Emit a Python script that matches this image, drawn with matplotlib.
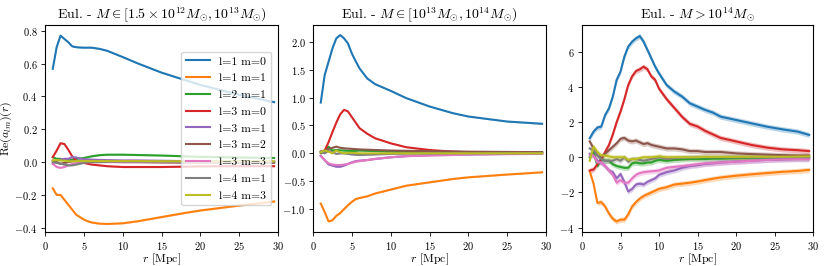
import numpy as np
import matplotlib
matplotlib.use("Agg")
import matplotlib.pyplot as plt

plt.rcParams["font.family"] = "serif"
plt.rcParams["font.serif"] = ["cmr10", "DejaVu Serif"]
plt.rcParams["mathtext.fontset"] = "cm"
plt.rcParams["axes.formatter.use_mathtext"] = True
plt.rcParams["axes.unicode_minus"] = True

LABELS = ["l=1 m=0", "l=1 m=1", "l=2 m=1", "l=3 m=0", "l=3 m=1",
          "l=3 m=2", "l=3 m=3", "l=4 m=1", "l=4 m=3"]
TITLES = [r"Eul. - $M \in [1.5\times10^{12}M_{\odot}, 10^{13}M_{\odot})$",
          r"Eul. - $M \in [10^{13}M_{\odot}, 10^{14}M_{\odot})$",
          r"Eul. - $M > 10^{14}M_{\odot}$"]

# radius grid, low and mid mass bins
r_lo = [1, 1.5, 2, 2.5, 3, 3.5, 4, 4.5, 5, 5.5, 6, 7, 8, 10, 12, 15, 18, 20, 25, 29.5]

# low mass bin
lo_10 = [0.568, 0.70, 0.77, 0.75, 0.73, 0.705, 0.70, 0.698, 0.697, 0.697, 0.697, 0.69, 0.678, 0.64, 0.60, 0.545, 0.50, 0.47, 0.41, 0.365]
lo_11 = [-0.16, -0.20, -0.20, -0.23, -0.26, -0.29, -0.32, -0.335, -0.35, -0.36, -0.368, -0.375, -0.377, -0.373, -0.36, -0.335, -0.31, -0.295, -0.265, -0.24]
lo_21 = [0.03, 0.02, 0.02, 0.012, 0.01, 0.015, 0.02, 0.022, 0.025, 0.03, 0.035, 0.042, 0.045, 0.045, 0.043, 0.04, 0.035, 0.032, 0.028, 0.025]
lo_30 = [0.03, 0.07, 0.115, 0.11, 0.075, 0.035, 0.01, 0.0, -0.005, -0.01, -0.015, -0.02, -0.025, -0.03, -0.03, -0.03, -0.028, -0.026, -0.025, -0.025]
lo_31 = [-0.01, 0.01, 0.015, 0.02, 0.02, 0.03, 0.028, 0.022, 0.018, 0.016, 0.015, 0.013, 0.012, 0.01, 0.01, 0.008, 0.006, 0.005, 0.003, 0.002]
lo_32 = [0.01, 0.0, -0.01, -0.005, 0.0, 0.005, 0.005, 0.004, 0.003, 0.003, 0.003, 0.002, 0.002, 0.0, 0.0, -0.002, -0.003, -0.003, -0.004, -0.005]
lo_33 = [-0.01, -0.03, -0.035, -0.03, -0.02, -0.012, -0.008, -0.005, -0.002, 0.0, 0.0, 0.0, 0.0, 0.0, 0.0, 0.0, 0.0, 0.0, 0.0, 0.0]
lo_41 = [0.0, -0.005, -0.01, -0.015, -0.02, -0.02, -0.015, -0.01, -0.005, -0.002, 0.0, 0.0, 0.002, 0.003, 0.003, 0.003, 0.002, 0.002, 0.001, 0.001]
lo_43 = [0.01, 0.012, 0.01, 0.008, 0.005, 0.005, 0.006, 0.006, 0.006, 0.006, 0.006, 0.006, 0.006, 0.006, 0.006, 0.005, 0.005, 0.005, 0.005, 0.005]

# mid mass bin
mid_10 = [0.91, 1.40, 1.64, 1.88, 2.06, 2.12, 2.06, 1.97, 1.79, 1.65, 1.52, 1.34, 1.24, 1.12, 0.99, 0.84, 0.72, 0.66, 0.57, 0.53]
mid_11 = [-0.9, -1.05, -1.22, -1.2, -1.12, -1.07, -1.0, -0.93, -0.87, -0.82, -0.8, -0.77, -0.72, -0.65, -0.58, -0.52, -0.46, -0.43, -0.38, -0.34]
mid_21 = [0.0, 0.05, 0.12, 0.05, 0.06, 0.055, 0.05, 0.045, 0.04, 0.045, 0.05, 0.045, 0.04, 0.03, 0.025, 0.02, 0.02, 0.02, 0.02, 0.02]
mid_30 = [0.02, 0.05, 0.2, 0.38, 0.55, 0.70, 0.78, 0.75, 0.65, 0.55, 0.45, 0.35, 0.27, 0.18, 0.11, 0.06, 0.03, 0.02, 0.01, 0.01]
mid_31 = [-0.05, -0.12, -0.2, -0.22, -0.24, -0.24, -0.22, -0.19, -0.16, -0.14, -0.13, -0.12, -0.1, -0.07, -0.05, -0.03, -0.02, -0.02, -0.01, -0.01]
mid_32 = [0.03, 0.05, 0.08, 0.1, 0.12, 0.1, 0.09, 0.085, 0.08, 0.075, 0.07, 0.065, 0.06, 0.05, 0.045, 0.04, 0.035, 0.03, 0.025, 0.02]
mid_33 = [-0.04, -0.12, -0.18, -0.2, -0.21, -0.21, -0.2, -0.19, -0.17, -0.15, -0.14, -0.12, -0.1, -0.07, -0.05, -0.04, -0.03, -0.02, -0.015, -0.01]
mid_41 = [0.03, 0.0, 0.05, 0.02, -0.01, 0.0, 0.0, -0.01, -0.02, -0.025, -0.03, -0.025, -0.02, -0.01, -0.005, 0.0, 0.0, 0.0, 0.0, 0.0]
mid_43 = [0.02, 0.05, 0.03, 0.0, 0.05, 0.02, 0.0, 0.01, 0.01, 0.005, 0.0, 0.0, 0.0, 0.0, 0.0, 0.0, 0.0, 0.0, 0.0, 0.0]

# high mass bin
r_hi = [1, 1.5, 2, 2.5, 3, 3.5, 4, 4.5, 5, 5.5, 6, 6.5, 7, 7.5, 8, 8.5, 9, 9.5, 10, 11, 12, 13, 14, 15, 16, 17, 18, 20, 22, 24, 26, 28, 29.5]
hi_10 = [1.08, 1.46, 1.69, 1.74, 2.4, 2.78, 3.45, 4.4, 4.87, 5.72, 6.29, 6.57, 6.76, 6.89, 6.57, 6.1, 5.63, 5.15, 4.77, 4.1, 3.73, 3.45, 3.07, 2.88, 2.69, 2.54, 2.31, 2.12, 1.93, 1.74, 1.59, 1.46, 1.27]
hi_11 = [-0.8, -1.5, -2.6, -2.55, -2.8, -3.2, -3.5, -3.65, -3.55, -3.55, -3.25, -2.8, -2.55, -2.35, -2.2, -2.1, -2.0, -1.9, -1.8, -1.7, -1.55, -1.5, -1.45, -1.38, -1.3, -1.22, -1.15, -1.05, -0.97, -0.9, -0.83, -0.78, -0.72]
hi_21 = [0.0, 0.3, -0.5, -0.1, -0.2, -0.2, -0.4, -0.5, -0.55, -0.6, -0.6, -0.35, -0.3, -0.35, -0.35, -0.3, -0.3, -0.2, -0.15, -0.2, -0.15, -0.12, -0.1, -0.1, -0.1, -0.08, -0.08, -0.05, -0.03, -0.02, 0.0, 0.0, 0.0]
hi_30 = [-0.75, -0.7, -0.4, -0.1, 0.3, 0.7, 1.3, 2.0, 2.6, 3.3, 4.1, 4.6, 4.9, 5.0, 5.15, 5.0, 4.6, 4.4, 3.9, 3.3, 2.8, 2.3, 1.9, 1.75, 1.5, 1.3, 1.1, 0.9, 0.7, 0.55, 0.45, 0.4, 0.35]
hi_31 = [0.2, 0.1, -0.2, -0.3, -0.5, -0.75, -0.85, -1.2, -0.95, -1.4, -1.95, -1.8, -1.55, -1.5, -1.55, -1.4, -1.3, -1.2, -1.0, -0.85, -0.75, -0.6, -0.5, -0.45, -0.38, -0.35, -0.3, -0.25, -0.2, -0.15, -0.12, -0.1, -0.1]
hi_32 = [0.9, 0.5, 0.1, 0.0, 0.2, 0.4, 0.6, 0.8, 1.05, 1.1, 0.95, 0.9, 0.95, 0.85, 0.75, 0.8, 0.7, 0.65, 0.6, 0.5, 0.5, 0.45, 0.35, 0.35, 0.3, 0.3, 0.3, 0.22, 0.18, 0.15, 0.12, 0.1, 0.1]
hi_33 = [0.1, 0.1, -0.3, -0.3, -0.5, -0.75, -1.0, -1.45, -1.3, -1.45, -1.45, -1.2, -1.0, -0.9, -0.85, -0.82, -0.8, -0.78, -0.75, -0.6, -0.55, -0.5, -0.45, -0.4, -0.35, -0.32, -0.3, -0.25, -0.2, -0.15, -0.12, -0.1, -0.1]
hi_41 = [0.5, 0.4, 0.1, -0.1, -0.2, -0.2, -0.2, -0.1, -0.2, 0.0, -0.25, -0.1, -0.1, -0.15, -0.2, -0.15, -0.1, -0.05, 0.0, -0.1, -0.05, -0.03, -0.02, 0.0, 0.0, 0.0, 0.0, 0.0, 0.0, 0.0, 0.0, 0.0, 0.0]
hi_43 = [-0.2, 0.6, 0.3, 0.1, 0.1, 0.05, 0.0, 0.0, 0.0, 0.0, -0.15, -0.1, -0.1, -0.05, 0.0, 0.0, 0.0, 0.02, 0.05, 0.0, 0.0, 0.0, 0.0, 0.0, 0.02, 0.02, 0.02, 0.02, 0.03, 0.03, 0.03, 0.04, 0.05]

# rough error band half-width per bin
band_err = [0.004, 0.01, 0.15]

panels = [
    (r_lo, [lo_10, lo_11, lo_21, lo_30, lo_31, lo_32, lo_33, lo_41, lo_43]),
    (r_lo, [mid_10, mid_11, mid_21, mid_30, mid_31, mid_32, mid_33, mid_41, mid_43]),
    (r_hi, [hi_10, hi_11, hi_21, hi_30, hi_31, hi_32, hi_33, hi_41, hi_43]),
]
ylims = [(-0.426, 0.835), (-1.41, 2.30), (-4.25, 7.52)]
yticks = [np.arange(-0.4, 0.81, 0.2), np.arange(-1.0, 2.01, 0.5), np.arange(-4, 7, 2)]

W, H = 830, 266
fig = plt.figure(figsize=(W / 100, H / 100), dpi=100)
boxes = [(45, 233), (313, 233), (582, 231)]
colours = plt.cm.tab10(range(9))

for k, ((r, series), (left, width)) in enumerate(zip(panels, boxes)):
    ax = fig.add_axes([left / W, 34 / H, width / W, 207 / H])
    for i, y in enumerate(series):
        y = np.array(y)
        ax.fill_between(r, y - band_err[k], y + band_err[k], color=colours[i], alpha=0.3, lw=0)
        ax.plot(r, y, color=colours[i], lw=1.5, label=LABELS[i])
    ax.set_xlim(0, 30)
    ax.set_ylim(*ylims[k])
    ax.set_yticks(yticks[k])
    ax.tick_params(labelsize=7.5, length=3, width=0.6, pad=2.5)
    for s in ax.spines.values():
        s.set_linewidth(0.8)
    ax.set_title(TITLES[k], fontsize=10, pad=4)
    ax.set_xlabel(r"$r$ [Mpc]", fontsize=8.5, labelpad=0)
    if k == 0:
        ax.set_ylabel(r"$\mathrm{Re}(a_{lm})(r)$", fontsize=8.5, labelpad=0)
        ax.legend(loc="center right", fontsize=8.5, handlelength=2.0, labelspacing=0.55,
                  borderaxespad=0.6)

fig.savefig("out.png", dpi=100)
